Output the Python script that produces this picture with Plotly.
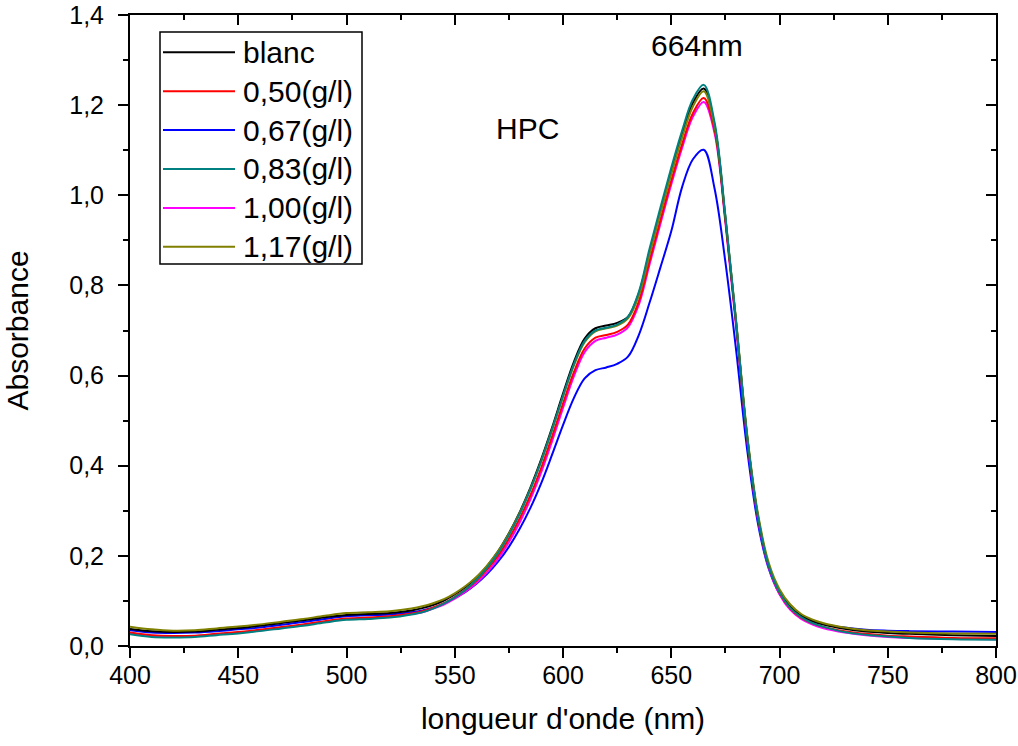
import plotly.graph_objects as go

# ---------------- data ----------------
wavelength = [400, 410, 420, 430, 440, 450, 460, 470, 480, 490, 500, 510, 520,
              530, 535, 540, 545, 550, 555, 560, 565, 570, 575, 580, 585, 590, 595,
              600, 605, 610, 615, 620, 625, 630, 635, 640, 645, 650, 655, 660, 665,
              670, 675, 680, 685, 690, 695, 700, 705, 710, 715, 720,
              730, 740, 750, 760, 780, 800]

blanc = [0.038, 0.033, 0.031, 0.032, 0.036, 0.040, 0.045, 0.051, 0.057, 0.064, 0.069, 0.071, 0.073,
         0.079, 0.084, 0.091, 0.101, 0.115, 0.131, 0.152, 0.178, 0.210, 0.250, 0.297, 0.352, 0.415, 0.485,
         0.560, 0.630, 0.682, 0.705, 0.711, 0.717, 0.730, 0.782, 0.875, 0.965, 1.052, 1.135, 1.205, 1.237,
         1.155, 0.950, 0.717, 0.468, 0.290, 0.180, 0.122, 0.088, 0.068, 0.056, 0.048,
         0.038, 0.032, 0.029, 0.027, 0.024, 0.022]

c050 = [0.030, 0.024, 0.022, 0.023, 0.027, 0.031, 0.036, 0.042, 0.048, 0.055, 0.061, 0.063, 0.066,
        0.072, 0.077, 0.085, 0.095, 0.109, 0.125, 0.145, 0.170, 0.200, 0.238, 0.283, 0.335, 0.396, 0.465,
        0.538, 0.607, 0.660, 0.684, 0.690, 0.697, 0.713, 0.764, 0.855, 0.945, 1.032, 1.113, 1.182, 1.216,
        1.145, 0.946, 0.712, 0.465, 0.287, 0.178, 0.118, 0.083, 0.063, 0.051, 0.043,
        0.033, 0.027, 0.023, 0.021, 0.018, 0.017]

c067 = [0.035, 0.030, 0.029, 0.030, 0.033, 0.037, 0.041, 0.047, 0.053, 0.060, 0.066, 0.068, 0.070,
        0.075, 0.079, 0.085, 0.094, 0.106, 0.120, 0.138, 0.160, 0.187, 0.220, 0.260, 0.307, 0.362, 0.425,
        0.490, 0.550, 0.594, 0.612, 0.618, 0.626, 0.642, 0.690, 0.762, 0.840, 0.920, 1.018, 1.080, 1.101,
        1.015, 0.852, 0.655, 0.438, 0.273, 0.172, 0.116, 0.085, 0.067, 0.056, 0.049,
        0.041, 0.036, 0.034, 0.033, 0.032, 0.031]

c083 = [0.026, 0.020, 0.019, 0.020, 0.024, 0.028, 0.033, 0.039, 0.045, 0.052, 0.058, 0.060, 0.063,
        0.070, 0.075, 0.083, 0.094, 0.108, 0.125, 0.147, 0.174, 0.206, 0.246, 0.293, 0.348, 0.411, 0.481,
        0.555, 0.625, 0.677, 0.700, 0.706, 0.713, 0.730, 0.785, 0.882, 0.973, 1.061, 1.143, 1.213, 1.245,
        1.162, 0.955, 0.716, 0.467, 0.288, 0.178, 0.119, 0.084, 0.064, 0.051, 0.043,
        0.031, 0.025, 0.021, 0.018, 0.015, 0.014]

c100 = [0.029, 0.023, 0.021, 0.022, 0.026, 0.030, 0.035, 0.041, 0.047, 0.054, 0.060, 0.062, 0.065,
        0.071, 0.075, 0.083, 0.092, 0.105, 0.121, 0.140, 0.164, 0.193, 0.230, 0.274, 0.326, 0.386, 0.455,
        0.528, 0.598, 0.652, 0.677, 0.684, 0.691, 0.707, 0.757, 0.847, 0.937, 1.024, 1.105, 1.174, 1.207,
        1.138, 0.940, 0.706, 0.460, 0.283, 0.175, 0.115, 0.080, 0.060, 0.048, 0.040,
        0.030, 0.024, 0.020, 0.018, 0.016, 0.015]

c117 = [0.043, 0.037, 0.034, 0.035, 0.039, 0.043, 0.048, 0.054, 0.060, 0.067, 0.073, 0.075, 0.077,
        0.083, 0.088, 0.095, 0.104, 0.117, 0.133, 0.153, 0.179, 0.210, 0.249, 0.295, 0.349, 0.411, 0.480,
        0.553, 0.622, 0.674, 0.698, 0.705, 0.711, 0.727, 0.777, 0.870, 0.960, 1.047, 1.128, 1.197, 1.231,
        1.153, 0.952, 0.720, 0.473, 0.295, 0.185, 0.126, 0.092, 0.071, 0.059, 0.051,
        0.041, 0.035, 0.032, 0.030, 0.028, 0.027]

series_names = ["blanc", "0,50(g/l)", "0,67(g/l)", "0,83(g/l)", "1,00(g/l)", "1,17(g/l)"]
series_values = [blanc, c050, c067, c083, c100, c117]
series_colors = ["#000000", "#ff0000", "#0000ff", "#008080", "#ff00ff", "#808000"]

x_ticks = [400, 450, 500, 550, 600, 650, 700, 750, 800]
y_ticks = [0.0, 0.2, 0.4, 0.6, 0.8, 1.0, 1.2, 1.4]

FONT = "Liberation Sans, Arial, sans-serif"

fig = go.Figure()

draw_order = [2, 4, 1, 0, 5, 3]
for i in draw_order:
    fig.add_trace(go.Scatter(
        x=wavelength, y=series_values[i], mode="lines", name=series_names[i],
        line=dict(color=series_colors[i], width=2, shape="spline", smoothing=1.0),
        showlegend=False,
    ))

# helper trace so the mirrored top/right axes are drawn
fig.add_trace(go.Scatter(x=wavelength, y=blanc, xaxis="x2", yaxis="y2", mode="lines",
                         line=dict(width=0), opacity=0, hoverinfo="skip", showlegend=False))

axis_common = dict(showline=True, linecolor="black", linewidth=2, showgrid=False, zeroline=False,
                   automargin=False)

fig.update_layout(
    width=1018, height=746,
    margin=dict(l=130, r=22, t=15, b=100),
    paper_bgcolor="white", plot_bgcolor="white",
    separators=", ",
    font=dict(family=FONT, color="black"),
    xaxis=dict(range=[400, 800], tickvals=x_ticks, ticks="outside", ticklen=10, tickwidth=2,
               tickcolor="black", tickfont=dict(size=25, family=FONT),
               ticklabelstandoff=-4,
               minor=dict(ticks="outside", ticklen=5, tickwidth=2, tickcolor="black", dtick=25),
               title=dict(text="longueur d'onde (nm)", font=dict(size=30, family=FONT), standoff=20),
               **axis_common),
    yaxis=dict(range=[0, 1.4], tickvals=y_ticks, tickformat=".1f", ticks="outside", ticklen=10,
               tickwidth=2, tickcolor="black", tickfont=dict(size=25, family=FONT),
               ticklabelstandoff=9,
               minor=dict(ticks="outside", ticklen=5, tickwidth=2, tickcolor="black", dtick=0.1),
               title=dict(text="Absorbance", font=dict(size=30, family=FONT), standoff=32),
               **axis_common),
    xaxis2=dict(range=[400, 800], overlaying="x", side="top", anchor="y", tickvals=x_ticks,
                ticks="inside", ticklen=10, tickwidth=2, tickcolor="black", showticklabels=False,
                minor=dict(ticks="inside", ticklen=5, tickwidth=2, tickcolor="black", dtick=25),
                **axis_common),
    yaxis2=dict(range=[0, 1.4], overlaying="y", side="right", anchor="x", tickvals=y_ticks,
                ticks="inside", ticklen=10, tickwidth=2, tickcolor="black", showticklabels=False,
                minor=dict(ticks="inside", ticklen=5, tickwidth=2, tickcolor="black", dtick=0.1),
                **axis_common),
)

fig.add_annotation(x=662, y=1.333, xref="x", yref="y", text="664nm", showarrow=False,
                   font=dict(size=30, family=FONT, color="black"))
fig.add_annotation(x=583.5, y=1.149, xref="x", yref="y", text="HPC", showarrow=False,
                   font=dict(size=30, family=FONT, color="black"))

# manual legend (pixel layout converted to paper coordinates)
PX0, PY0, PW, PH = 130.0, 646.0, 866.0, 631.0
def px(xp):
    return (xp - PX0) / PW
def py(yp):
    return (PY0 - yp) / PH

fig.add_shape(type="rect", xref="paper", yref="paper", x0=px(160), x1=px(362), y0=py(264), y1=py(32),
              line=dict(color="black", width=1.5), fillcolor="white", layer="above")
for k, (name, color) in enumerate(zip(series_names, series_colors)):
    yc = 52.3 + 38.9 * k
    fig.add_shape(type="line", xref="paper", yref="paper", x0=px(163), x1=px(235), y0=py(yc), y1=py(yc),
                  line=dict(color=color, width=2), layer="above")
    fig.add_annotation(x=px(241), y=py(yc), xref="paper", yref="paper", text=name, showarrow=False,
                       xanchor="left", yanchor="middle", font=dict(size=30, family=FONT, color="black"))

fig.write_html("out.html",
               config={"displayModeBar": False},
               post_script="document.body.style.margin='0';document.body.style.overflow='hidden';")
